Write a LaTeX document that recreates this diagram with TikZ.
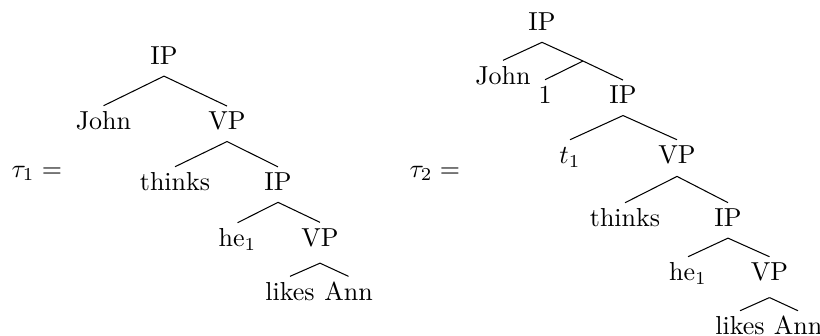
\documentclass[tikz,border=0pt]{standalone}
\usepackage{amsmath}
\usepackage{amssymb}
\tikzset{cat/.style={anchor=base, inner sep=0pt, text height=8.9pt, text depth=4.35pt},
  deep/.style={text depth=6.4pt}}

\begin{document}
\begin{tikzpicture}[x=0.3846pt,y=-0.3846pt]
  \useasboundingbox (0,0) rectangle (820,335);
  % first tree
  \node[cat, anchor=base west] (tauA) at (11,177) {$\tau_1 =$};
  \node[cat] (ipA) at (164,64.3) {IP};
  \node[cat] (johnA) at (103.5,129.4) {John};
  \node[cat] (vpA) at (227,129.7) {VP};
  \node[cat] (thinksA) at (175,190.4) {thinks};
  \node[cat] (ipB) at (278,190.5) {IP};
  \node[cat] (heA) at (237.5,246.4) {he$_1$};
  \node[cat, deep] (vpB) at (320,246) {VP};
  \node[cat] (likesA) at (290,300) {likes};
  \node[cat] (annA) at (348.5,300) {Ann};
  \draw (ipA.south) -- (johnA.north);
  \draw (ipA.south) -- (vpA.north);
  \draw (vpA.south) -- (thinksA.north);
  \draw (vpA.south) -- (ipB.north);
  \draw (ipB.south) -- (heA.north);
  \draw (ipB.south) -- (vpB.north);
  \draw (vpB.south) -- (likesA.north);
  \draw (vpB.south) -- (annA.north);
  % second tree
  \node[cat, anchor=base west] (tauB) at (409,177) {$\tau_2 =$};
  \node[cat] (ipC) at (542,30.5) {IP};
  \node[cat] (johnC) at (503,84) {John};
  \coordinate (bar) at (583,61);
  \node[cat] (oneC) at (545,103.4) {1};
  \node[cat] (ipD) at (623,103.7) {IP};
  \node[cat] (tC) at (570,163.4) {$t_1$};
  \node[cat, text depth=4.8pt] (vpC) at (677,163.4) {VP};
  \node[cat] (thinksC) at (625,226.4) {thinks};
  \node[cat] (ipE) at (728,226.3) {IP};
  \node[cat] (heC) at (688,280.4) {he$_1$};
  \node[cat, deep] (vpD) at (769.5,280.4) {VP};
  \node[cat] (likesC) at (740,334.4) {likes};
  \node[cat] (annC) at (798,334.4) {Ann};
  \draw (ipC.south) -- (johnC.north);
  \draw (ipC.south) -- (bar) -- (ipD.north);
  \draw (bar) -- (oneC.north);
  \draw (ipD.south) -- (tC.north);
  \draw (ipD.south) -- (vpC.north);
  \draw (vpC.south) -- (thinksC.north);
  \draw (vpC.south) -- (ipE.north);
  \draw (ipE.south) -- (heC.north);
  \draw (ipE.south) -- (vpD.north);
  \draw (vpD.south) -- (likesC.north);
  \draw (vpD.south) -- (annC.north);
\end{tikzpicture}
\end{document}
